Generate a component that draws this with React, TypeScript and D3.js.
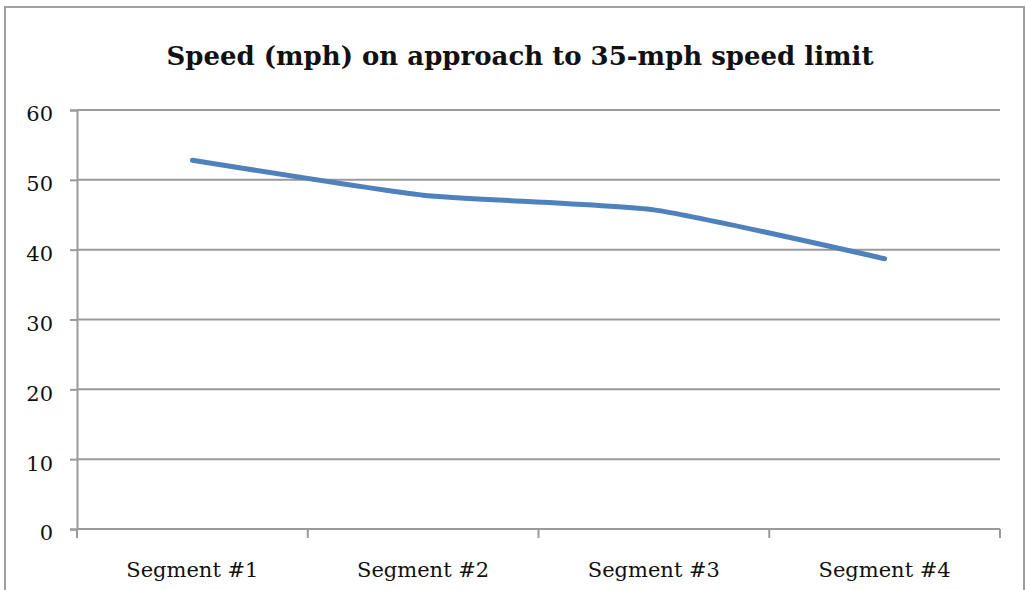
import * as d3 from 'd3';
import { useRef, useEffect } from 'react';

const categories = ['Segment #1', 'Segment #2', 'Segment #3', 'Segment #4'];
const speeds = [52.8, 47.8, 45.7, 38.7];
const yTicks = [0, 10, 20, 30, 40, 50, 60];
const title = 'Speed (mph) on approach to 35-mph speed limit';

const FONT = '"DejaVu Serif", serif';

export default function App() {
  const svgRef = useRef<SVGSVGElement>(null);

  useEffect(() => {
    if (!svgRef.current) return;
    const svg = d3.select(svgRef.current);
    svg.selectAll('*').remove();

    const W = 1026;
    const H = 590;
    const margin = { top: 110, right: 26, bottom: 61, left: 77 };
    const width = W - margin.left - margin.right;
    const height = H - margin.top - margin.bottom;

    svg.append('rect').attr('width', W).attr('height', H).attr('fill', '#fff');

    // outer frame
    svg.append('rect')
      .attr('x', 5).attr('y', 7).attr('width', W - 7).attr('height', H + 10)
      .attr('fill', 'none').attr('stroke', '#a0a0a0').attr('stroke-width', 2);

    svg.append('text')
      .attr('x', 520).attr('y', 65)
      .attr('text-anchor', 'middle')
      .attr('font-family', FONT)
      .attr('font-weight', 'bold')
      .attr('font-size', 26)
      .attr('fill', '#111')
      .text(title);

    const g = svg.append('g').attr('transform', `translate(${margin.left},${margin.top})`);

    const x = d3.scaleBand<string>().domain(categories).range([0, width]);
    const y = d3.scaleLinear().domain([0, 60]).range([height, 0]);

    // gridlines
    g.append('g')
      .selectAll('line')
      .data(yTicks.filter((t) => t > 0))
      .join('line')
      .attr('x1', 0).attr('x2', width)
      .attr('y1', (d) => y(d)).attr('y2', (d) => y(d))
      .attr('stroke', '#9a9a9a').attr('stroke-width', 2);

    // y axis
    const yAxis = g.append('g')
      .call(d3.axisLeft(y).tickValues(yTicks).tickSize(7).tickPadding(17).tickFormat(d3.format('d')));
    yAxis.select('.domain').attr('stroke', '#9a9a9a').attr('stroke-width', 2);
    yAxis.selectAll('.tick line').attr('stroke', '#9a9a9a').attr('stroke-width', 2);
    yAxis.selectAll('.tick text')
      .attr('font-family', FONT)
      .attr('dy', '0.52em')
      .attr('font-size', 21).attr('fill', '#111');

    // x axis
    const xAxisG = g.append('g').attr('transform', `translate(0,${height})`);
    xAxisG.append('line')
      .attr('x1', 0).attr('x2', width).attr('y1', 0).attr('y2', 0)
      .attr('stroke', '#9a9a9a').attr('stroke-width', 2);
    const bounds = [0, ...categories.map((c) => (x(c) ?? 0) + x.bandwidth())];
    xAxisG.selectAll('line.tk')
      .data(bounds)
      .join('line')
      .attr('class', 'tk')
      .attr('x1', (d) => d).attr('x2', (d) => d)
      .attr('y1', 0).attr('y2', 9)
      .attr('stroke', '#9a9a9a').attr('stroke-width', 2);
    xAxisG.selectAll('text')
      .data(categories)
      .join('text')
      .attr('x', (d) => (x(d) ?? 0) + x.bandwidth() / 2)
      .attr('y', 48)
      .attr('text-anchor', 'middle')
      .attr('font-family', FONT)
      .attr('font-size', 21).attr('fill', '#111')
      .text((d) => d);

    const line = d3.line<number>()
      .x((_, i) => (x(categories[i]) ?? 0) + x.bandwidth() / 2)
      .y((d) => y(d))
      .curve(d3.curveCardinal.tension(0.5));

    g.append('path')
      .datum(speeds)
      .attr('fill', 'none')
      .attr('stroke', '#4f81bd')
      .attr('stroke-width', 5)
      .attr('stroke-linecap', 'round')
      .attr('d', line as unknown as string);
  }, []);

  return (
    <svg
      ref={svgRef}
      width={1026}
      height={590}
      style={{ position: 'absolute', left: 0, top: 0 }}
    />
  );
}
